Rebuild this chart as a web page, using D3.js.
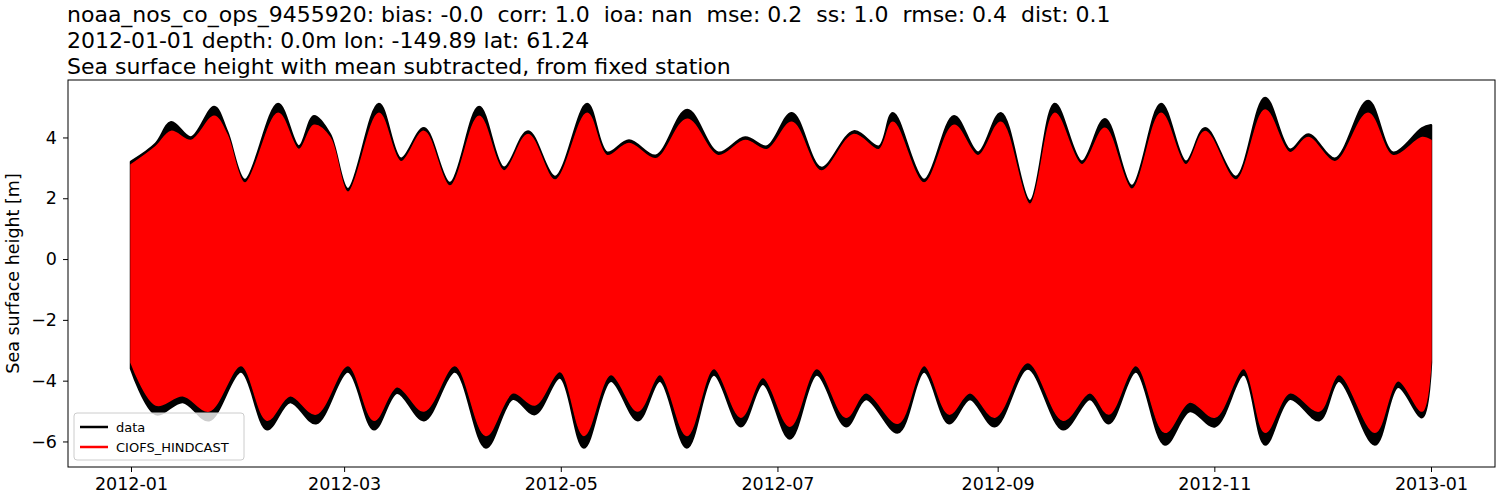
<!DOCTYPE html>
<html>
<head>
<meta charset="utf-8">
<script src="https://cdn.jsdelivr.net/npm/d3@7"></script>
<style>
  body { margin: 0; background: #fff; }
  text { font-family: "DejaVu Sans", sans-serif; white-space: pre; }
</style>
</head>
<body>
<svg id="chart" width="1500" height="500"></svg>
<script>
// envelope of the tide record (day of year, metres)
var topDays = [0,7,11.3,16.9,23.4,27,32.1,41.4,47.3,51.5,56,61.1,69.8,76,82.5,89.8,98,105,111.8,119.4,128.4,134,140.2,147.8,156.6,165.3,172.9,179.1,186.1,194.3,203.5,210.6,214.5,223.3,231.7,238.5,244.9,253.1,260.1,267.7,274.2,281.8,290,297,302.4,311.1,319.3,326.3,331.4,339,348.3,355.3,363.5,366];
var dataHigh = [3.2,3.8,4.5,4.0,5.0,4.2,2.6,5.1,3.7,4.7,4.1,2.3,5.1,3.3,4.3,2.5,5.0,3.0,4.2,2.7,5.1,3.5,3.9,3.4,4.9,3.5,4.0,3.7,4.8,3.0,4.2,3.7,4.8,2.6,4.7,3.5,4.8,1.9,5.1,3.2,4.6,2.4,5.1,3.2,4.3,2.7,5.3,3.6,4.1,3.3,5.2,3.5,4.3,4.4];
var modelHigh = [3.1,3.7,4.2,3.9,4.7,4.1,2.5,4.8,3.6,4.4,4.0,2.2,4.8,3.2,4.2,2.4,4.7,2.9,4.1,2.6,4.8,3.4,3.8,3.3,4.6,3.4,3.9,3.6,4.5,2.9,4.1,3.6,4.5,2.5,4.4,3.4,4.5,1.8,4.8,3.1,4.3,2.3,4.8,3.1,4.2,2.6,4.9,3.5,4.0,3.2,4.8,3.4,4.0,3.9];
var lowDays = [0,7,14.6,22,31,38.3,44.8,52.1,61.1,68.4,74.9,82.5,91.2,99.9,107.5,113.7,120.8,127.5,135.1,142.7,148.9,156.5,164.1,171.7,177.9,185.5,193.1,201.3,206.9,215.9,223.3,230.3,236.2,243.2,252.5,262.4,270,275.3,282.9,291.1,298.1,305.2,313.3,319.3,326.3,334.5,340.1,350.2,356.7,363.5,366];
var dataLow = [-3.6,-5.1,-4.7,-5.3,-3.7,-5.6,-4.7,-5.4,-3.7,-5.6,-4.4,-5.3,-3.7,-6.2,-4.6,-5.1,-3.9,-6.2,-4.0,-5.3,-4.0,-6.2,-3.8,-5.5,-4.1,-5.9,-3.8,-5.5,-4.6,-5.7,-3.7,-5.4,-4.6,-5.5,-3.6,-5.6,-4.6,-5.4,-3.7,-6.1,-5.0,-5.5,-3.8,-6.1,-4.6,-5.3,-4.0,-6.1,-4.2,-5.2,-3.4];
var modelLow = [-3.4,-4.8,-4.5,-5.0,-3.5,-5.3,-4.5,-5.1,-3.5,-5.3,-4.2,-5.0,-3.5,-5.8,-4.4,-4.8,-3.7,-5.8,-3.8,-5.0,-3.8,-5.8,-3.6,-5.2,-3.9,-5.5,-3.6,-5.2,-4.4,-5.4,-3.5,-5.1,-4.4,-5.2,-3.4,-5.3,-4.4,-5.1,-3.5,-5.7,-4.7,-5.2,-3.6,-5.7,-4.4,-5.0,-3.8,-5.7,-4.0,-5.0,-3.3];
var yTicks = [-6,-4,-2,0,2,4];
var titles = [
  "noaa_nos_co_ops_9455920: bias: -0.0  corr: 1.0  ioa: nan  mse: 0.2  ss: 1.0  rmse: 0.4  dist: 0.1",
  "2012-01-01 depth: 0.0m lon: -149.89 lat: 61.24",
  "Sea surface height with mean subtracted, from fixed station"
];

var svg = d3.select('#chart'),
    L = 68, R = 1495, T = 80, B = 467,
    t0 = new Date(2012, 0, 1);

var x = d3.scaleTime().domain([t0, new Date(2013, 0, 1)]).range([131, 1431]);
var y = d3.scaleLinear().domain([-6.84, 5.89]).range([B, T]);
function day(d) { return d3.timeHour.offset(t0, Math.round(d * 24)); }

var edge = d3.line().curve(d3.curveCatmullRom.alpha(0.5))
  .x(function(p) { return x(day(p[0])); }).y(function(p) { return y(p[1]); });

// band = smooth high envelope forward, smooth low envelope back
function band(high, low) {
  var up = topDays.map(function(d, i) { return [d, high[i]]; });
  var dn = lowDays.map(function(d, i) { return [d, low[i]]; }).reverse();
  return edge(up) + 'L' + edge(dn).slice(1) + 'Z';
}

svg.append('path').attr('d', band(dataHigh, dataLow))
  .attr('fill', 'black').attr('stroke', 'black').attr('stroke-width', 2.5).attr('stroke-linejoin', 'round');
svg.append('path').attr('d', band(modelHigh, modelLow))
  .attr('fill', 'red').attr('stroke', 'red').attr('stroke-width', 1.5).attr('stroke-linejoin', 'round');

// axes
var xa = svg.append('g').attr('transform', 'translate(0,' + B + ')')
  .call(d3.axisBottom(x).ticks(d3.timeMonth.every(2)).tickFormat(d3.timeFormat('%Y-%m')).tickSize(5).tickPadding(6));
var ya = svg.append('g').attr('transform', 'translate(' + L + ',0)')
  .call(d3.axisLeft(y).tickValues(yTicks).tickFormat(function(d) { return d < 0 ? '\u2212' + (-d) : d; }).tickSize(5).tickPadding(6));
[xa, ya].forEach(function(g) {
  g.select('.domain').remove();
  g.selectAll('text').attr('font-size', 17.5).attr('font-family', 'DejaVu Sans').attr('fill', '#000');
  g.selectAll('line').attr('stroke', '#000');
});
svg.append('rect').attr('x', L).attr('y', T).attr('width', R - L).attr('height', B - T)
  .attr('fill', 'none').attr('stroke', '#000').attr('stroke-width', 1);

svg.append('text').attr('transform', 'translate(19,' + ((T + B) / 2) + ') rotate(-90)')
  .attr('text-anchor', 'middle').attr('font-size', 17.5).text('Sea surface height [m]');

titles.forEach(function(t, i) {
  svg.append('text').attr('x', 67).attr('y', 22 + i * 26).attr('font-size', 22).text(t);
});

// legend
var lg = svg.append('g').attr('transform', 'translate(74,413)');
lg.append('rect').attr('width', 170).attr('height', 47).attr('rx', 3)
  .attr('fill', 'rgba(255,255,255,0.8)').attr('stroke', '#ccc');
[['data', 'black'], ['CIOFS_HINDCAST', 'red']].forEach(function(s, i) {
  lg.append('line').attr('x1', 6).attr('x2', 34).attr('y1', 14 + i * 20).attr('y2', 14 + i * 20)
    .attr('stroke', s[1]).attr('stroke-width', 2.5);
  lg.append('text').attr('x', 42).attr('y', 19 + i * 20).attr('font-size', 13).text(s[0]);
});
</script>
</body>
</html>
